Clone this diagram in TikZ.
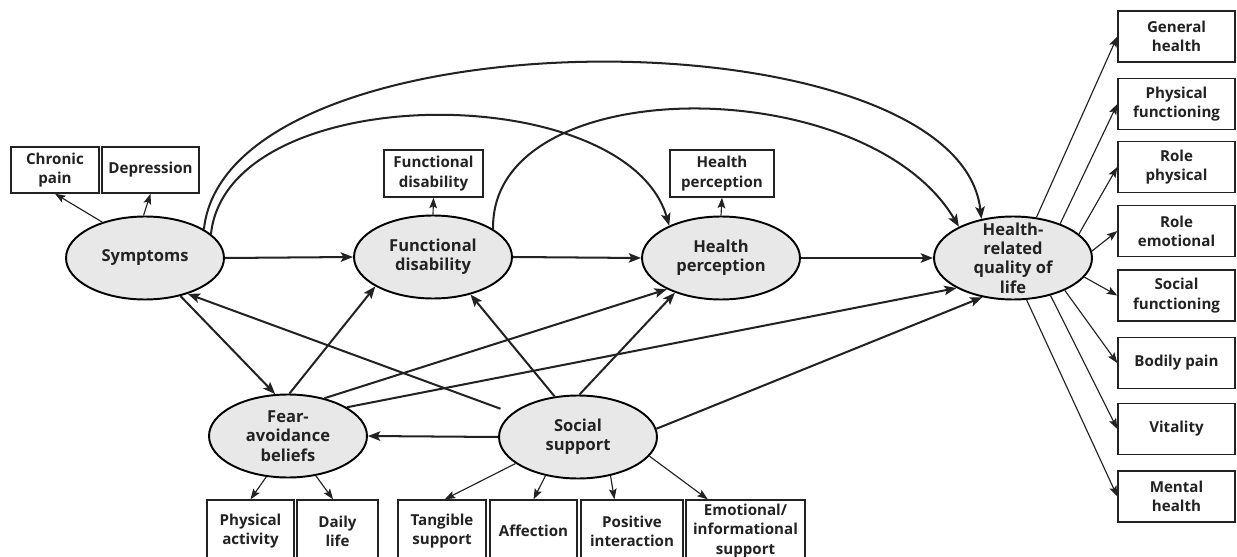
\documentclass[tikz,border=0pt]{standalone}
\usepackage{fontspec}
\setmainfont{Open Sans}
\usepackage{tikz}
\usetikzlibrary{arrows.meta,positioning,calc,shapes.geometric}
\definecolor{OvalIn}{HTML}{E8E8E8}
\definecolor{OvalOut}{HTML}{9C9C9C}
\definecolor{InkGray}{HTML}{222222}
\pgfdeclareradialshading{ovalshade}{\pgfpoint{-4bp}{6bp}}{color(0bp)=(OvalIn); color(38bp)=(OvalIn); color(50bp)=(OvalOut)}
\tikzset{
  latent/.style={ellipse, draw=black, line width=1.1pt, shading=ovalshade,
    minimum width=3.16cm, minimum height=1.66cm, inner sep=0pt,
    label={[lattext]center:#1}},
  lattext/.style={align=center, text=InkGray,
    font=\fontsize{9.4}{11}\selectfont\bfseries},
  obs/.style={draw=InkGray, line width=0.8pt, fill=white, align=center,
    inner sep=1pt, text=InkGray, font=\fontsize{8.6}{11}\selectfont\bfseries},
  pathline/.style={draw=InkGray, line width=1.15pt, -{Stealth[length=7pt,width=5.4pt,inset=1.5pt]}},
  loadline/.style={draw=InkGray, line width=0.65pt, -{Stealth[length=6pt,width=4.4pt,inset=1.2pt]}},
}

\begin{document}
\begin{tikzpicture}[x=0.02cm,y=-0.02cm]
  \useasboundingbox (0,0) rectangle (1237,557);

  % latent variables
  \node[latent={Symptoms}] (sym) at (145,258) {};
  \node[latent={Functional\\disability}] (fd) at (433,257) {};
  \node[latent={Health\\perception}] (hp) at (721,258) {};
  \node[latent={Health-\\related\\quality of\\life}] (hrq) at (1013,258) {};
  \node[latent={Fear-\\avoidance\\beliefs}] (fear) at (288,436) {};
  \node[latent={Social\\support}] (soc) at (578,437) {};

  % indicators
  \node[obs,minimum width=1.76cm,minimum height=0.92cm] (cp) at (55,170) {Chronic\\pain};
  \node[obs,minimum width=1.94cm,minimum height=0.92cm] (dep) at (150.5,170) {Depression};
  \node[obs,minimum width=1.98cm,minimum height=0.94cm] (fdb) at (433.5,173.5) {Functional\\disability};
  \node[obs,minimum width=2.08cm,minimum height=0.94cm] (hpb) at (722,173.5) {Health\\perception};

  \node[obs,minimum width=1.74cm,minimum height=1.24cm] (pa) at (250.5,531) {Physical\\activity};
  \node[obs,minimum width=1.62cm,minimum height=1.24cm] (dl) at (337.5,531) {Daily\\life};
  \node[obs,minimum width=1.76cm,minimum height=1.24cm] (ts) at (442,531) {Tangible\\support};
  \node[obs,minimum width=1.74cm,minimum height=1.24cm] (af) at (533.5,531) {Affection};
  \node[obs,minimum width=2.04cm,minimum height=1.24cm] (pi) at (632,531) {Positive\\interaction};
  \node[obs,minimum width=2.38cm,minimum height=1.24cm] (em) at (745.5,531) {Emotional/\\informational\\support};

  \foreach \nm/\y/\txt in {gh/36.5/{General\\health},pf/104/{Physical\\functioning},
      rp/167/{Role\\physical},re/231/{Role\\emotional},sf/295.5/{Social\\functioning},
      bp/363/{Bodily pain},vt/429/{Vitality},mh/496.5/{Mental\\health}}
    \node[obs,minimum width=2.34cm,minimum height=1.02cm] (\nm) at (1176.5,\y) {\txt};

  % structural paths
  \draw[pathline] (sym.east) -- (fd.west);
  \draw[pathline] (fd.east) -- (hp.west);
  \draw[pathline] (hp.east) -- (hrq.west);
  \draw[pathline] (sym.26) .. controls (228,8) and (958,10) .. (hrq.129);
  \draw[pathline] (sym.20) .. controls (228,78) and (626,78) .. (hp.148);
  \draw[pathline] (fd.25) .. controls (490,70) and (866,70) .. (hrq.150);
  \draw[pathline] (sym.-47) -- (fear.107);
  \draw[pathline,shorten <=7pt] (soc.160) -- (sym.-40);
  \draw[pathline] (fear.88) -- (fd.-153);
  \draw[pathline] (fear.46) -- (hp.-150);
  \draw[pathline] (fear.26) -- (hrq.-152);
  \draw[pathline] (soc.120) -- (fd.-45);
  \draw[pathline] (soc.88) -- (hp.-143);
  \draw[pathline] (soc.6) -- (hrq.-128);
  \draw[pathline] (soc.west) -- (fear.east);

  % measurement paths
  \draw[loadline] (sym.140) -- (cp.south);
  \draw[loadline] (sym.92) -- (dep.south);
  \draw[loadline] (fd.north) -- (fdb.south);
  \draw[loadline] (hp.north) -- (hpb.south);
  \draw[loadline] (fear.-118) -- (pa.north);
  \draw[loadline] (fear.-55) -- (dl.98);
  \draw[loadline] (soc.-157) -- (ts.85);
  \draw[loadline] (soc.-130) -- (af.north);
  \draw[loadline] (soc.-50) -- (pi.119);
  \draw[loadline] (soc.-15) -- (em.140);
  \foreach \ang/\tgt in {60/gh,36/pf,20/rp,5/re,-15/sf,-32/bp,-45/vt,-72/mh}
    \draw[loadline] (hrq.\ang) -- (\tgt.west);
\end{tikzpicture}
\end{document}
